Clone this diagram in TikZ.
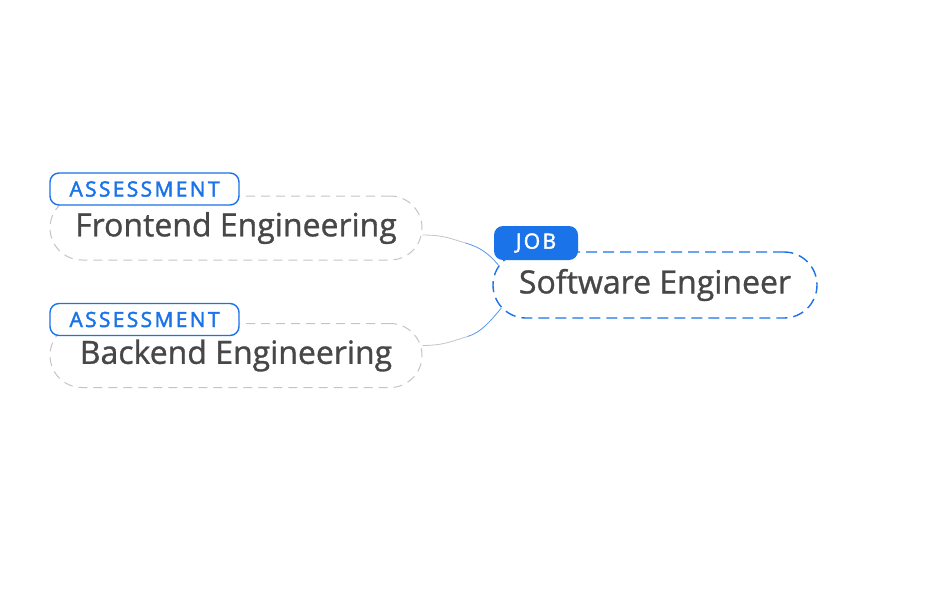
\documentclass[tikz,border=0pt]{standalone}
\usepackage{fontspec}
\setmainfont{Open Sans}[FakeBold=1]
\newfontfamily\tagfont{Open Sans}[FakeBold=2, LetterSpace=11]
\usetikzlibrary{positioning, calc}
\definecolor{jobblue}{HTML}{1A73E8}
\definecolor{txtgray}{HTML}{474747}
\definecolor{linegray}{HTML}{C4C4C4}

\begin{document}
\begin{tikzpicture}[
  x=1pt, y=-1pt,
  every node/.style={font=\fontsize{32}{38}\selectfont, text=txtgray},
  item/.style = {draw=linegray, dash pattern=on 9pt off 6pt, line width=1pt, rounded corners=32pt, minimum height=64pt, inner sep=0pt},
  role/.style = {draw=jobblue, dash pattern=on 11pt off 6pt, line width=1.4pt, rounded corners=33pt, minimum height=66pt, inner sep=0pt},
  tag/.style  = {draw=jobblue, fill=white, line width=1.4pt, rounded corners=9pt, minimum height=32pt, inner sep=0pt, text=jobblue, font=\tagfont\fontsize{21}{24}\selectfont},
  jtag/.style = {fill=jobblue, rounded corners=9pt, minimum height=34pt, inner sep=0pt, text=white, font=\tagfont\fontsize{21}{24}\selectfont},
  link/.style = {draw=linegray, line width=0.8pt},
  tail/.style = {draw=jobblue!75, line width=0.8pt},
]
  \useasboundingbox (0,0) rectangle (928,598);

  % boxes
  \node[item, minimum width=372pt] (fe) at (236,228)   {Frontend Engineering};
  \node[item, minimum width=372pt] (be) at (236,355.5) {Backend Engineering};
  \node[role, minimum width=324pt] (se) at (655,285)   {Software Engineer};

  % links
  \coordinate (fe-out) at ($(fe.east)+(0,7)$);
  \coordinate (fe-mid) at ($(fe.east)+(43,15)$);
  \coordinate (be-out) at ($(be.east)+(0,-10)$);
  \coordinate (be-mid) at ($(be.east)+(45,-19)$);
  \coordinate (se-in1) at ($(se.west)+(6,-20)$);
  \coordinate (se-in2) at ($(se.west)+(9,23)$);
  \draw[link] (fe-out) .. controls +(22,0) and +(-14,-4) .. (fe-mid);
  \draw[tail] (fe-mid) .. controls +(14,4) and +(-10,-12) .. (se-in1);
  \draw[link] (be-out) .. controls +(22,0) and +(-14,4) .. (be-mid);
  \draw[tail] (be-mid) .. controls +(14,-4) and +(-10,12) .. (se-in2);

  % tags
  \node[tag, minimum width=189pt] (fe-tag) at (144.5,189)   {ASSESSMENT};
  \node[tag, minimum width=189pt] (be-tag) at (144.5,319.5) {ASSESSMENT};
  \node[jtag, minimum width=84pt] (se-tag) at (536,243)     {JOB};
\end{tikzpicture}
\end{document}
